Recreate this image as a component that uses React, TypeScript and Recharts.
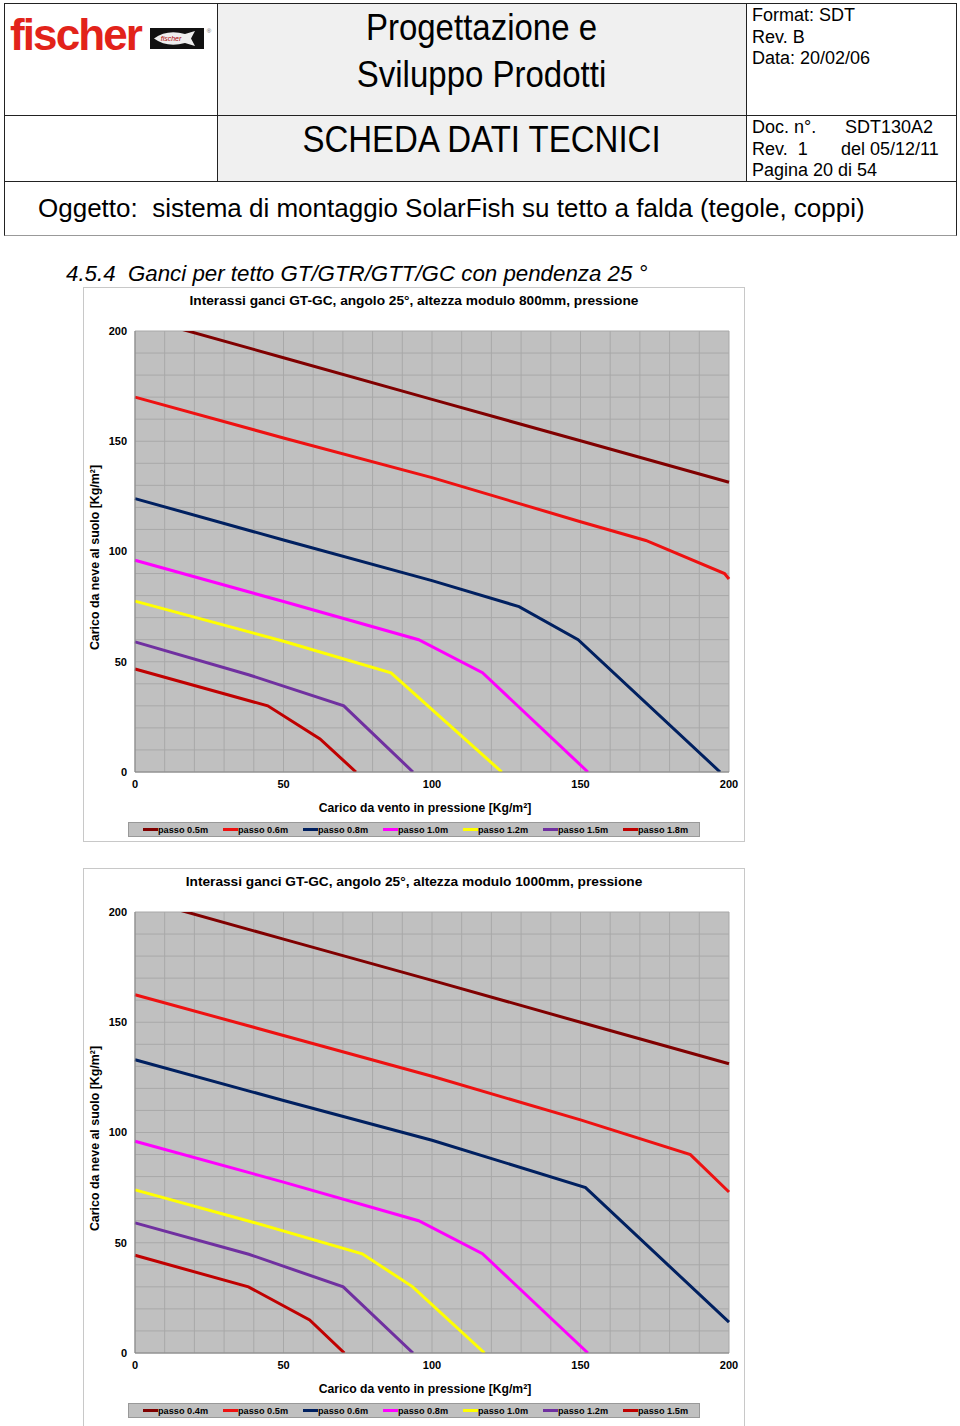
import { LineChart, Line, XAxis, YAxis, CartesianGrid } from 'recharts';

// tick values (grid every 10, labels every 50)
const gridTicks = [0, 10, 20, 30, 40, 50, 60, 70, 80, 90, 100, 110, 120, 130, 140, 150, 160, 170, 180, 190, 200];

// chart 1 - altezza modulo 800mm
const c1Passo05 = [{ x: 0, y: 206.7 }, { x: 50, y: 187.9 }, { x: 100, y: 169 }, { x: 150, y: 150.2 }, { x: 200, y: 131.4 }];
const c1Passo06 = [{ x: 0, y: 170 }, { x: 50, y: 151.5 }, { x: 100, y: 133.5 }, { x: 150, y: 113.5 }, { x: 172, y: 105 }, { x: 198.5, y: 90 }, { x: 200, y: 87.5 }];
const c1Passo08 = [{ x: 0, y: 124 }, { x: 50, y: 105.2 }, { x: 100, y: 86.8 }, { x: 129.3, y: 75 }, { x: 149.2, y: 60 }, { x: 197, y: 0 }];
const c1Passo10 = [{ x: 0, y: 96 }, { x: 50, y: 77.3 }, { x: 95.5, y: 60 }, { x: 117, y: 45 }, { x: 152.5, y: 0 }];
const c1Passo12 = [{ x: 0, y: 77.5 }, { x: 50, y: 59.3 }, { x: 86.2, y: 45 }, { x: 123.5, y: 0 }];
const c1Passo15 = [{ x: 0, y: 59 }, { x: 38.5, y: 44 }, { x: 70.3, y: 30 }, { x: 93.6, y: 0 }];
const c1Passo18 = [{ x: 0, y: 46.7 }, { x: 44.7, y: 30 }, { x: 62.3, y: 15 }, { x: 74.4, y: 0 }];

// chart 2 - altezza modulo 1000mm
const c2Passo04 = [{ x: 0, y: 206.5 }, { x: 50, y: 187.7 }, { x: 100, y: 169 }, { x: 150, y: 150 }, { x: 200, y: 131.2 }];
const c2Passo05 = [{ x: 0, y: 162.5 }, { x: 50, y: 144 }, { x: 100, y: 125.5 }, { x: 150, y: 105.7 }, { x: 187, y: 90 }, { x: 200, y: 73 }];
const c2Passo06 = [{ x: 0, y: 133 }, { x: 50, y: 114.5 }, { x: 100, y: 96.5 }, { x: 151.7, y: 75 }, { x: 200, y: 14 }];
const c2Passo08 = [{ x: 0, y: 96 }, { x: 50, y: 77.5 }, { x: 95.5, y: 60 }, { x: 117, y: 45 }, { x: 152.5, y: 0 }];
const c2Passo10 = [{ x: 0, y: 74 }, { x: 40, y: 59.2 }, { x: 76.5, y: 45 }, { x: 93.5, y: 30 }, { x: 117.7, y: 0 }];
const c2Passo12 = [{ x: 0, y: 59 }, { x: 38.3, y: 44.8 }, { x: 70.1, y: 30 }, { x: 93.6, y: 0 }];
const c2Passo15 = [{ x: 0, y: 44.3 }, { x: 38.2, y: 30 }, { x: 58.8, y: 15 }, { x: 70.5, y: 0 }];

const seriesColors = ['#800000', '#ee1111', '#002060', '#ff00ff', '#ffff00', '#7030a0', '#c00000'];
const c1Names = ['passo 0.5m', 'passo 0.6m', 'passo 0.8m', 'passo 1.0m', 'passo 1.2m', 'passo 1.5m', 'passo 1.8m'];
const c2Names = ['passo 0.4m', 'passo 0.5m', 'passo 0.6m', 'passo 0.8m', 'passo 1.0m', 'passo 1.2m', 'passo 1.5m'];
const c1Data = [c1Passo05, c1Passo06, c1Passo08, c1Passo10, c1Passo12, c1Passo15, c1Passo18];
const c2Data = [c2Passo04, c2Passo05, c2Passo06, c2Passo08, c2Passo10, c2Passo12, c2Passo15];

const FONT = '"Liberation Sans", Arial, Helvetica, sans-serif';

const fmt = (v: number) => (v % 50 === 0 ? String(v) : '');

function SnowChart({ title, names, data, top, boxHeight }: { title: string; names: string[]; data: { x: number; y: number }[][]; top: number; boxHeight: number }) {
  return (
    <div style={{ position: 'absolute', left: 83, top, width: 660, height: boxHeight, border: '1px solid #c8c8c8', background: '#fff', fontFamily: FONT }}>
      <div style={{ position: 'absolute', left: 0, width: 660, top: 5, textAlign: 'center', fontSize: 13.7, fontWeight: 'bold' }}>{title}</div>
      <LineChart width={661} height={555} margin={{ top: 44, right: 15, left: 0, bottom: 30 }} style={{ position: 'absolute', left: -1, top: -1 }}>
        <CartesianGrid stroke="#a8a8a8" fill="#c0c0c0" fillOpacity={1} />
        <XAxis
          type="number"
          dataKey="x"
          domain={[0, 200]}
          ticks={gridTicks}
          interval={0}
          tickFormatter={fmt}
          tickLine={false}
          tickSize={0}
          tickMargin={8}
          axisLine={{ stroke: '#888' }}
          height={40}
          tick={{ fill: '#000', fontSize: 11, fontWeight: 'bold', fontFamily: FONT }}
          label={{ value: 'Carico da vento in pressione [Kg/m²]', position: 'insideBottom', offset: 0, dx: -7, fill: '#000', fontSize: 12.2, fontWeight: 'bold', fontFamily: FONT }}
        />
        <YAxis
          type="number"
          domain={[0, 200]}
          allowDataOverflow
          ticks={gridTicks}
          interval={0}
          tickFormatter={fmt}
          tickLine={false}
          tickSize={0}
          tickMargin={8}
          axisLine={{ stroke: '#888' }}
          width={52}
          tick={{ fill: '#000', fontSize: 11, fontWeight: 'bold', fontFamily: FONT }}
          label={{ value: 'Carico da neve al suolo [Kg/m²]', angle: -90, position: 'insideLeft', offset: 12, dy: 6, fill: '#000', fontSize: 12.4, fontWeight: 'bold', fontFamily: FONT, style: { textAnchor: 'middle' } }}
        />
        {data.map((d, i) => (
          <Line key={names[i]} data={d} dataKey="y" type="linear" stroke={seriesColors[i]} strokeWidth={3} dot={false} activeDot={false} isAnimationActive={false} />
        ))}
      </LineChart>
      <div style={{ position: 'absolute', left: 44, top: 534, width: 570, height: 13, background: '#c0c0c0', border: '1px solid #999' }}>
        {names.map((n, i) => (
          <div key={n} style={{ position: 'absolute', left: 14 + i * 80, top: 0, height: 13, display: 'flex', alignItems: 'center', fontSize: 9.2, fontWeight: 'bold', color: '#000' }}>
            <span style={{ display: 'inline-block', width: 15, height: 3, background: seriesColors[i] }} />
            <span>{n}</span>
          </div>
        ))}
      </div>
    </div>
  );
}

function Header() {
  const line = '#222';
  const tall = { transform: 'scaleY(1.12)', transformOrigin: 'center' };
  return (
    <div style={{ position: 'absolute', left: 4, top: 3, width: 951, height: 231, border: `1px solid ${line}`, borderBottomColor: '#999', fontFamily: FONT, color: '#000' }}>
      <div style={{ position: 'absolute', left: 212, top: 0, width: 529, height: 177, background: '#f0f0f0' }} />
      <div style={{ position: 'absolute', left: 212, top: 0, width: 1, height: 177, background: line }} />
      <div style={{ position: 'absolute', left: 741, top: 0, width: 1, height: 177, background: line }} />
      <div style={{ position: 'absolute', left: 0, top: 111, width: 951, height: 1, background: line }} />
      <div style={{ position: 'absolute', left: 0, top: 177, width: 951, height: 1, background: line }} />
      {/* logo */}
      <div style={{ position: 'absolute', left: 5, top: 6, fontSize: 44, lineHeight: '50px', fontWeight: 'bold', color: '#e2231a', letterSpacing: -1.9 }}>fischer</div>
      <svg style={{ position: 'absolute', left: 144, top: 23 }} width={64} height={23}>
        <rect x={1} y={1} width={54} height={21} fill="#111" />
        <path d="M5 11.5 Q18 2 36 7 L46 4 L42 11.5 L46 19 L36 16 Q18 21 5 11.5 Z" fill="#eee" />
        <text x={22} y={14} fontSize={7} fontStyle="italic" fill="#a00" textAnchor="middle" fontFamily={FONT}>fischer</text>
        <text x={60} y={6} fontSize={6} fill="#666" textAnchor="middle" fontFamily={FONT}>®</text>
      </svg>
      {/* titles */}
      <div style={{ position: 'absolute', left: 212, width: 529, top: 5, textAlign: 'center', fontSize: 33, lineHeight: '42px', ...tall }}>
        Progettazione e<br />Sviluppo Prodotti
      </div>
      <div style={{ position: 'absolute', left: 212, width: 529, top: 115, textAlign: 'center', fontSize: 33, lineHeight: '42px', ...tall }}>SCHEDA DATI TECNICI</div>
      {/* right column */}
      <div style={{ position: 'absolute', left: 747, top: 1, fontSize: 18, lineHeight: '21.5px' }}>
        Format: SDT<br />Rev. B<br />Data: 20/02/06
      </div>
      <div style={{ position: 'absolute', left: 747, top: 113, fontSize: 18, lineHeight: '21.5px', width: 200 }}>
        <div style={{ position: 'relative', height: 21.5 }}>
          <span>Doc. n°.</span>
          <span style={{ position: 'absolute', left: 93 }}>SDT130A2</span>
        </div>
        <div style={{ position: 'relative', height: 21.5 }}>
          <span>Rev.&nbsp;&nbsp;1</span>
          <span style={{ position: 'absolute', left: 89 }}>del 05/12/11</span>
        </div>
        <div>Pagina 20 di 54</div>
      </div>
      <div style={{ position: 'absolute', left: 33, top: 189, fontSize: 26, whiteSpace: 'pre' }}>Oggetto:  sistema di montaggio SolarFish su tetto a falda (tegole, coppi)</div>
    </div>
  );
}

export default function App() {
  return (
    <div style={{ position: 'absolute', left: 0, top: 0, width: 960, height: 1426, overflow: 'hidden', background: '#fff', fontFamily: FONT }}>
      <Header />
      <div style={{ position: 'absolute', left: 66, top: 261, fontSize: 22.3, fontStyle: 'italic', whiteSpace: 'pre', color: '#000' }}>4.5.4  Ganci per tetto GT/GTR/GTT/GC con pendenza 25 °</div>
      <SnowChart title="Interassi ganci GT-GC, angolo 25°, altezza modulo 800mm, pressione" names={c1Names} data={c1Data} top={287} boxHeight={553} />
      <SnowChart title="Interassi ganci GT-GC, angolo 25°, altezza modulo 1000mm, pressione" names={c2Names} data={c2Data} top={868} boxHeight={570} />
    </div>
  );
}
